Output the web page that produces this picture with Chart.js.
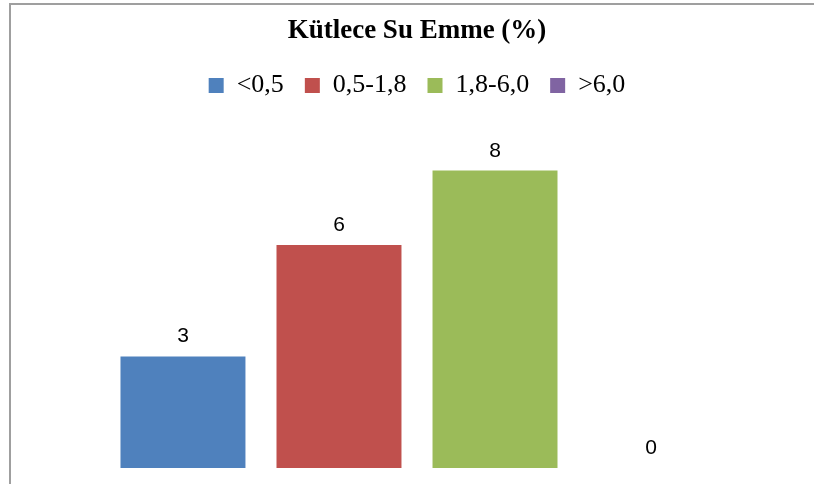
<!DOCTYPE html>
<html>
<head>
<meta charset="utf-8">
<script src="https://cdn.jsdelivr.net/npm/chart.js@4/dist/chart.umd.min.js"></script>
<style>
  html, body { margin: 0; padding: 0; background: #fff; }
  #wrap { position: relative; width: 814px; height: 484px; }
</style>
</head>
<body>
<div id="wrap"><canvas id="c" width="814" height="484"></canvas></div>
<script>
// Water absorption by mass (%) - number of samples per class
const categories = [''];
const seriesNames = ['<0,5', '0,5-1,8', '1,8-6,0', '>6,0'];
const seriesValues = [3, 6, 8, 0];
const seriesColors = ['#4F81BD', '#C0504D', '#9BBB59', '#8064A2'];
const titleText = 'Kütlece Su Emme (%)';

const datasets = seriesNames.map((name, i) => ({
  label: name,
  data: [seriesValues[i]],
  backgroundColor: seriesColors[i],
  borderWidth: 0
}));

// Thin gray frame along the left and top edges
const framePlugin = {
  id: 'frame',
  beforeDraw(chart) {
    const ctx = chart.ctx;
    ctx.save();
    ctx.strokeStyle = '#9f9f9f';
    ctx.lineWidth = 2;
    ctx.beginPath();
    ctx.moveTo(10, chart.height + 5);
    ctx.lineTo(10, 4);
    ctx.lineTo(chart.width + 5, 4);
    ctx.stroke();
    ctx.restore();
  }
};

// Value labels above each bar
const valueLabels = {
  id: 'valueLabels',
  afterDatasetsDraw(chart) {
    const ctx = chart.ctx;
    ctx.save();
    ctx.fillStyle = '#000';
    ctx.font = '21px "Liberation Sans", Arial, sans-serif';
    ctx.textAlign = 'center';
    ctx.textBaseline = 'alphabetic';
    chart.data.datasets.forEach((ds, i) => {
      const meta = chart.getDatasetMeta(i);
      meta.data.forEach((el, j) => {
        ctx.fillText(String(ds.data[j]), el.x, el.y - 14);
      });
    });
    ctx.restore();
  }
};

new Chart(document.getElementById('c'), {
  type: 'bar',
  data: { labels: categories, datasets },
  options: {
    responsive: false,
    animation: false,
    events: [],
    layout: { padding: { left: 20, right: 0, top: 0, bottom: 16 } },
    categoryPercentage: 0.786,
    barPercentage: 0.801,
    scales: {
      x: { display: false },
      y: { display: false, min: 0, max: 9 }
    },
    plugins: {
      title: {
        display: true,
        text: titleText,
        color: '#000',
        font: { family: '"Liberation Serif", "Times New Roman", serif', size: 27, weight: 'bold' },
        padding: { top: 15, bottom: 4 }
      },
      legend: {
        display: true,
        position: 'top',
        labels: {
          color: '#000',
          boxWidth: 15,
          boxHeight: 15,
          padding: 21,
          font: { family: '"Liberation Serif", "Times New Roman", serif', size: 26 }
        }
      },
      subtitle: {
        display: true,
        text: '',
        weight: 500,
        font: { size: 1, lineHeight: 1 },
        padding: { top: 12, bottom: 12 }
      },
      tooltip: { enabled: false }
    }
  },
  plugins: [framePlugin, valueLabels]
});
</script>
</body>
</html>
